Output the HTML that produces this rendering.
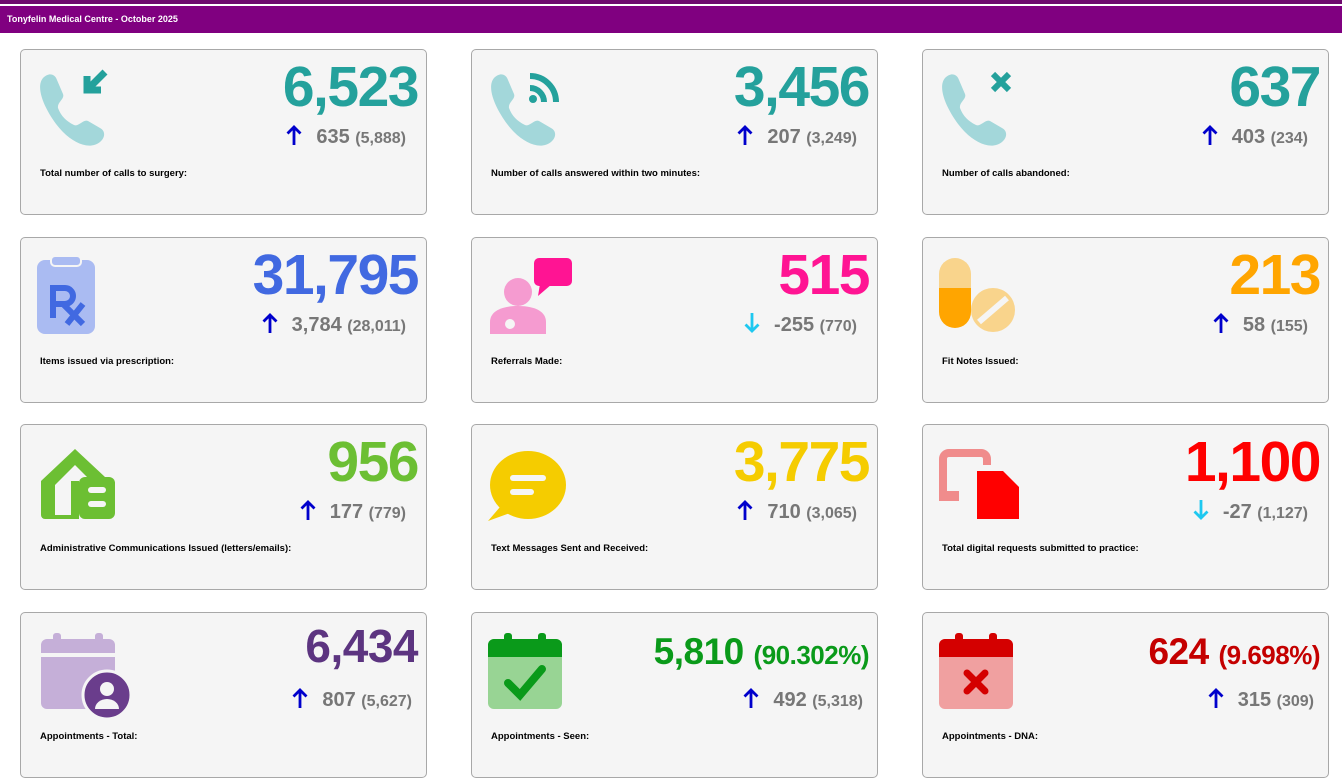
<!DOCTYPE html>
<html><head><meta charset="utf-8"><style>
*{margin:0;padding:0;box-sizing:border-box}
body{width:1342px;height:775px;overflow:hidden;background:#fff;font-family:"Liberation Sans",sans-serif;position:relative}
.top{position:absolute;left:0;top:0;width:1342px;height:4px;background:#6e0a6e}
.bar{position:absolute;left:0;top:6px;width:1342px;height:27px;background:#800080;color:#fff;font-size:9px;font-weight:bold;padding:8px 0 0 7px}
.card{position:absolute;width:407px;height:166px;background:#f5f5f5;border:1px solid #a8a8a8;border-radius:5px}
.num{position:absolute;right:8px;top:4px;font-size:57px;font-weight:bold;letter-spacing:-1.5px;line-height:66px;text-align:right;white-space:nowrap}
.num.sm{font-size:37px;top:14px;line-height:50px;letter-spacing:-0.5px}
.num.sm span{font-size:26px}
.sub{position:absolute;right:20px;top:74px;font-size:20px;font-weight:bold;color:#777;white-space:nowrap}
.sub small{font-size:16px}
.sub svg{vertical-align:-3px;margin-right:14px}
.lab{position:absolute;left:19px;top:118px;font-size:9.5px;font-weight:bold;color:#000}
.ic{position:absolute;left:14px;top:16px;width:80px;height:80px;overflow:visible}
</style></head><body>
<div class="top"></div>
<div class="bar">Tonyfelin Medical Centre - October 2025</div>
<svg width="0" height="0" style="position:absolute"><defs>
<g id="up"><path d="M8 21V3M1.5 9.5L8 3l6.5 6.5" stroke="#0000cc" stroke-width="2.8" fill="none"/></g>
<g id="dn"><path d="M8 1v18M1.5 12.5L8 19l6.5-6.5" stroke="#1ec8f0" stroke-width="2.8" fill="none"/></g>
</defs></svg>

<div class="card" style="left:20px;top:49px">
<svg class="ic" viewBox="0 0 80 80"><path d="M8 12c6-6 12-4 14 2l6 14c2 5-6 8-5 14 3 8 8 13 16 17 5 2 9-6 14-4l12 7c6 3 5 10 0 14-10 8-25 2-37-10S-2 24 8 12z" fill="#a3d7da"/><path d="M70 6L52 24M52 10v14h14" stroke="#24a19c" stroke-width="7" fill="none"/></svg>
<div class="num" style="color:#24a19c">6,523</div>
<div class="sub"><svg width="16" height="22"><use href="#up"/></svg>635 <small>(5,888)</small></div>
<div class="lab">Total number of calls to surgery:</div></div>

<div class="card" style="left:471px;top:49px">
<svg class="ic" viewBox="0 0 80 80"><path d="M8 12c6-6 12-4 14 2l6 14c2 5-6 8-5 14 3 8 8 13 16 17 5 2 9-6 14-4l12 7c6 3 5 10 0 14-10 8-25 2-37-10S-2 24 8 12z" fill="#a3d7da"/><g stroke="#24a19c" stroke-width="6" fill="none"><path d="M44 10a26 26 0 0 1 26 26"/><path d="M44 22a14 14 0 0 1 14 14"/></g><circle cx="47" cy="33" r="4" fill="#24a19c"/></svg>
<div class="num" style="color:#24a19c">3,456</div>
<div class="sub"><svg width="16" height="22"><use href="#up"/></svg>207 <small>(3,249)</small></div>
<div class="lab">Number of calls answered within two minutes:</div></div>

<div class="card" style="left:922px;top:49px">
<svg class="ic" viewBox="0 0 80 80"><path d="M8 12c6-6 12-4 14 2l6 14c2 5-6 8-5 14 3 8 8 13 16 17 5 2 9-6 14-4l12 7c6 3 5 10 0 14-10 8-25 2-37-10S-2 24 8 12z" fill="#a3d7da"/><path d="M56 8l16 16M72 8L56 24" stroke="#24a19c" stroke-width="6"/></svg>
<div class="num" style="color:#24a19c">637</div>
<div class="sub"><svg width="16" height="22"><use href="#up"/></svg>403 <small>(234)</small></div>
<div class="lab">Number of calls abandoned:</div></div>

<div class="card" style="left:20px;top:237px">
<svg class="ic" viewBox="0 0 80 80"><rect x="2" y="6" width="58" height="74" rx="8" fill="#aabbf2"/><rect x="16" y="2" width="30" height="10" rx="4" fill="#aabbf2" stroke="#f5f5f5" stroke-width="2"/><path d="M18 64V34h12a8 8 0 0 1 0 16H18M28 50l20 20M48 50L32 70" stroke="#4169e1" stroke-width="6" fill="none"/></svg>
<div class="num" style="color:#4169e1">31,795</div>
<div class="sub"><svg width="16" height="22"><use href="#up"/></svg>3,784 <small>(28,011)</small></div>
<div class="lab">Items issued via prescription:</div></div>

<div class="card" style="left:471px;top:237px">
<svg class="ic" viewBox="0 0 80 80"><circle cx="32" cy="38" r="14" fill="#f59bd0"/><path d="M4 80v-12c0-10 10-16 28-16s28 6 28 16v12z" fill="#f59bd0"/><rect x="48" y="4" width="38" height="28" rx="5" fill="#ff1493"/><path d="M54 30l-2 12 14-12z" fill="#ff1493"/><circle cx="24" cy="70" r="5" fill="#f5f5f5"/></svg>
<div class="num" style="color:#ff1493">515</div>
<div class="sub"><svg width="16" height="22"><use href="#dn"/></svg>-255 <small>(770)</small></div>
<div class="lab">Referrals Made:</div></div>

<div class="card" style="left:922px;top:237px">
<svg class="ic" viewBox="0 0 80 80"><path d="M2 34V20a16 16 0 0 1 32 0v14z" fill="#f9d48c"/><path d="M2 34h32v24a16 16 0 0 1-32 0z" fill="#ffa500"/><circle cx="56" cy="56" r="22" fill="#f9d48c"/><path d="M42 68l28-24" stroke="#f5f5f5" stroke-width="6"/></svg>
<div class="num" style="color:#ffa500">213</div>
<div class="sub"><svg width="16" height="22"><use href="#up"/></svg>58 <small>(155)</small></div>
<div class="lab">Fit Notes Issued:</div></div>

<div class="card" style="left:20px;top:424px">
<svg class="ic" viewBox="0 0 80 80"><path d="M6 40L40 8l30 28H44v42H10a4 4 0 0 1-4-4z" fill="#6cbf33"/><path d="M20 44L40 24l16 16H36v34H20z" fill="#f5f5f5"/><rect x="44" y="36" width="36" height="42" rx="6" fill="#6cbf33"/><rect x="53" y="46" width="18" height="6" rx="3" fill="#f5f5f5"/><rect x="53" y="60" width="18" height="6" rx="3" fill="#f5f5f5"/></svg>
<div class="num" style="color:#6cbf33">956</div>
<div class="sub"><svg width="16" height="22"><use href="#up"/></svg>177 <small>(779)</small></div>
<div class="lab">Administrative Communications Issued (letters/emails):</div></div>

<div class="card" style="left:471px;top:424px">
<svg class="ic" viewBox="0 0 80 80"><ellipse cx="42" cy="44" rx="38" ry="34" fill="#f5cc00"/><path d="M14 66L2 80l22-8z" fill="#f5cc00"/><rect x="24" y="34" width="36" height="6" rx="3" fill="#f5f5f5"/><rect x="24" y="48" width="24" height="6" rx="3" fill="#f5f5f5"/></svg>
<div class="num" style="color:#f5cc00">3,775</div>
<div class="sub"><svg width="16" height="22"><use href="#up"/></svg>710 <small>(3,065)</small></div>
<div class="lab">Text Messages Sent and Received:</div></div>

<div class="card" style="left:922px;top:424px">
<svg class="ic" viewBox="0 0 80 80"><path d="M6 54V18a6 6 0 0 1 6-6h32a6 6 0 0 1 6 6v6" stroke="#f08c8c" stroke-width="8" fill="none"/><path d="M2 50h20v10H2z" fill="#f08c8c"/><path d="M40 30h26l16 16v32H40z" fill="#ff0000"/></svg>
<div class="num" style="color:#ff0000">1,100</div>
<div class="sub"><svg width="16" height="22"><use href="#dn"/></svg>-27 <small>(1,127)</small></div>
<div class="lab">Total digital requests submitted to practice:</div></div>

<div class="card" style="left:20px;top:612px">
<svg class="ic" viewBox="0 0 80 80"><rect x="6" y="10" width="74" height="70" rx="6" fill="#c5afd8"/><rect x="18" y="4" width="8" height="14" rx="3" fill="#c5afd8"/><rect x="60" y="4" width="8" height="14" rx="3" fill="#c5afd8"/><rect x="6" y="24" width="74" height="4" fill="#f5f5f5"/><circle cx="72" cy="66" r="24" fill="#6a3d8c" stroke="#f5f5f5" stroke-width="3"/><circle cx="72" cy="60" r="7" fill="#f5f5f5"/><path d="M60 80a12 10 0 0 1 24 0z" fill="#f5f5f5"/></svg>
<div class="num sm" style="color:#5c3480;font-size:46px;top:8px">6,434</div>
<div class="sub" style="right:14px"><svg width="16" height="22"><use href="#up"/></svg>807 <small>(5,627)</small></div>
<div class="lab">Appointments - Total:</div></div>

<div class="card" style="left:471px;top:612px">
<svg class="ic" viewBox="0 0 80 80"><rect x="2" y="10" width="74" height="70" rx="6" fill="#98d494"/><path d="M2 16a6 6 0 0 1 6-6h62a6 6 0 0 1 6 6v12H2z" fill="#0a9a1a"/><rect x="18" y="4" width="8" height="14" rx="3" fill="#0a9a1a"/><rect x="52" y="4" width="8" height="14" rx="3" fill="#0a9a1a"/><path d="M22 54l12 12 22-26" stroke="#0a9a1a" stroke-width="8" fill="none" stroke-linecap="round"/></svg>
<div class="num sm" style="color:#0a9a1a">5,810 <span>(90.302%)</span></div>
<div class="sub" style="right:14px"><svg width="16" height="22"><use href="#up"/></svg>492 <small>(5,318)</small></div>
<div class="lab">Appointments - Seen:</div></div>

<div class="card" style="left:922px;top:612px">
<svg class="ic" viewBox="0 0 80 80"><rect x="2" y="10" width="74" height="70" rx="6" fill="#f0a0a0"/><path d="M2 16a6 6 0 0 1 6-6h62a6 6 0 0 1 6 6v12H2z" fill="#d40000"/><rect x="18" y="4" width="8" height="14" rx="3" fill="#d40000"/><rect x="52" y="4" width="8" height="14" rx="3" fill="#d40000"/><path d="M30 44l18 18M48 44L30 62" stroke="#d40000" stroke-width="7" stroke-linecap="round"/></svg>
<div class="num sm" style="color:#c40000">624 <span>(9.698%)</span></div>
<div class="sub" style="right:14px"><svg width="16" height="22"><use href="#up"/></svg>315 <small>(309)</small></div>
<div class="lab">Appointments - DNA:</div></div>
</body></html>
